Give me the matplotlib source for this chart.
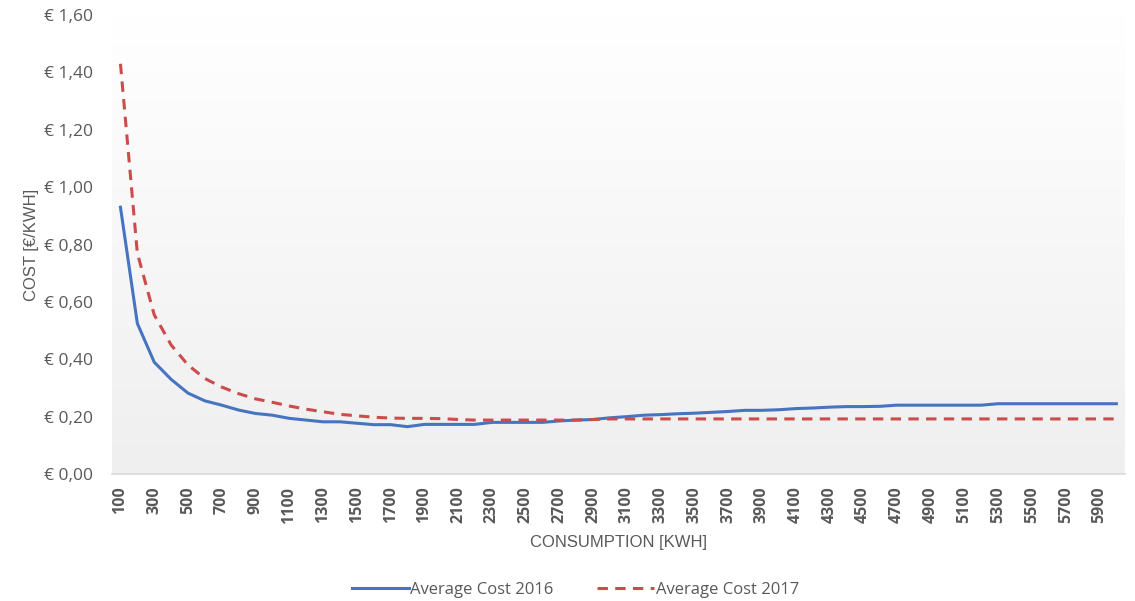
import numpy as np
import matplotlib
matplotlib.use('agg')
import matplotlib.pyplot as plt

plt.rcParams['font.family'] = ['Open Sans', 'DejaVu Sans']

# consumption categories (kWh)
consumption = list(range(100, 6001, 100))

cost_2016 = [0.93, 0.525, 0.39, 0.33, 0.282, 0.255, 0.24, 0.223, 0.211, 0.205,
             0.194, 0.188, 0.182, 0.182, 0.177, 0.172, 0.172, 0.165, 0.173, 0.173,
             0.173, 0.173, 0.18, 0.18, 0.18, 0.18, 0.185, 0.188, 0.19, 0.196,
             0.2, 0.205, 0.207, 0.21, 0.212, 0.215, 0.218, 0.222, 0.222, 0.224,
             0.228, 0.23, 0.233, 0.235, 0.235, 0.236, 0.24, 0.24, 0.24, 0.24,
             0.24, 0.24, 0.245, 0.245, 0.245, 0.245, 0.245, 0.245, 0.245, 0.245]

cost_2017 = [1.43, 0.77, 0.555, 0.45, 0.38, 0.333, 0.303, 0.28, 0.262, 0.25,
             0.237, 0.226, 0.217, 0.208, 0.203, 0.198, 0.195, 0.194, 0.194, 0.193,
             0.19, 0.188, 0.188, 0.188, 0.188, 0.188, 0.188, 0.188, 0.19, 0.192,
             0.192, 0.192, 0.192, 0.192, 0.192, 0.192, 0.192, 0.192, 0.192, 0.192,
             0.192, 0.192, 0.192, 0.192, 0.192, 0.192, 0.192, 0.192, 0.192, 0.192,
             0.192, 0.192, 0.192, 0.192, 0.192, 0.192, 0.192, 0.192, 0.192, 0.192]

tick_labels = [str(v) for v in consumption[::2]]
y_ticks = [0.0, 0.2, 0.4, 0.6, 0.8, 1.0, 1.2, 1.4, 1.6]

fig = plt.figure(figsize=(11.35, 6.01), dpi=100)
ax = fig.add_axes([0.0987, 0.2113, 0.8923, 0.7637])

# gradient background: white at top to light gray at bottom
grad = np.linspace(1.0, 0.0, 256).reshape(-1, 1)
cmap = matplotlib.colors.LinearSegmentedColormap.from_list('bg', ['#efefef', '#ffffff'])
ax.imshow(grad, cmap=cmap, aspect='auto', extent=[0, 1, 0, 1],
          transform=ax.transAxes, zorder=0, vmin=0, vmax=1)

ax.plot(consumption, cost_2016, color='#4674c1', lw=2.2, label='Average Cost 2016', zorder=3)
ax.plot(consumption, cost_2017, color='#cc4b4b', lw=2.2, dashes=(3.4, 2.4),
        label='Average Cost 2017', zorder=3)

ax.set_xlim(50, 6050)
ax.set_ylim(0, 1.6)
ax.set_xticks(consumption[::2])
ax.set_xticklabels(tick_labels, rotation=90, fontsize=11.5, color='#595959', fontweight='bold')
ax.set_yticks(y_ticks)
ax.set_yticklabels(['€ ' + ('%.2f' % v).replace('.', ',') for v in y_ticks],
                   fontsize=12.5, color='#595959')
ax.tick_params(axis='x', length=0, pad=9)
ax.tick_params(axis='y', length=0, pad=14)

for s in ['top', 'right', 'left']:
    ax.spines[s].set_visible(False)
ax.spines['bottom'].set_color('#d9d9d9')
ax.spines['bottom'].set_linewidth(1.2)

ax.set_xlabel('CONSUMPTION [KWH]', fontsize=12, color='#595959', labelpad=8,
              family=['Liberation Sans', 'DejaVu Sans'])
ax.set_ylabel('COST [€/KWH]', fontsize=12, color='#595959', labelpad=3,
              family=['Liberation Sans', 'DejaVu Sans'])

leg = fig.legend(loc='lower center', bbox_to_anchor=(0.507, -0.02), ncol=2, frameon=False,
                 fontsize=12, handlelength=3.4, columnspacing=2.6, handletextpad=0.1)
for t in leg.get_texts():
    t.set_color('#595959')

plt.savefig('out.png', dpi=100)
